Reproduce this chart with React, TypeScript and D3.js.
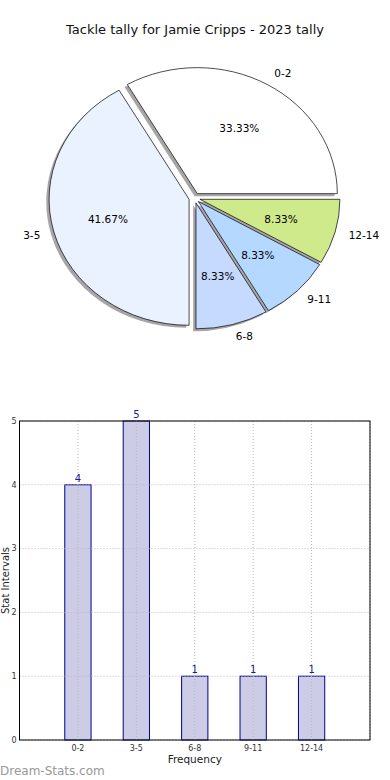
import React from "react";
import * as d3 from "d3";

const title = "Tackle tally for Jamie Cripps - 2023 tally";
const categories = ["0-2", "3-5", "6-8", "9-11", "12-14"];
const counts = [4, 5, 1, 1, 1];
const sliceColors = ["#ffffff", "#ebf2ff", "#c6d9ff", "#b4d8ff", "#cfea8b"];
const yTicks = [0, 1, 2, 3, 4, 5];

const W = 390, H = 780;
const font = "'DejaVu Sans', sans-serif";

// pie geometry (matplotlib style, not equal aspect -> ellipse)
const cx = 194.5, cy = 198, rx = 140, ry = 126;
const explode = 0.04;

const Pie = () => {
  const pie = d3.pie<number>().sort(null).startAngle(Math.PI / 2).endAngle(Math.PI / 2 - 2 * Math.PI);
  const arcs = pie(counts);
  const arc = d3.arc<d3.PieArcDatum<number>>().innerRadius(0).outerRadius(1);
  const total = d3.sum(counts);

  const info = arcs.map((a, i) => {
    const mid = Math.PI / 2 - (a.startAngle + a.endAngle) / 2; // math angle, ccw from east
    const ox = cx + explode * rx * Math.cos(mid);
    const oy = cy - explode * ry * Math.sin(mid);
    return { a, i, mid, ox, oy };
  });

  return (
    <g>
      {info.map(({ a, i, ox, oy }) => (
        <path key={"s" + i} d={arc(a) || ""}
          transform={`translate(${ox - 2.8},${oy + 2.5}) scale(${rx},${ry})`}
          fill="#4d4d4d" fillOpacity={0.5} stroke="none" />
      ))}
      {info.map(({ a, i, ox, oy }) => (
        <path key={"w" + i} d={arc(a) || ""}
          transform={`translate(${ox},${oy}) scale(${rx},${ry})`}
          fill={sliceColors[i]} stroke="#000" strokeWidth={0.7}
          vectorEffect="non-scaling-stroke" strokeLinejoin="miter" />
      ))}
      {info.map(({ i, mid, ox, oy }) => {
        const lx = ox + 1.1 * rx * Math.cos(mid);
        const ly = oy - 1.1 * ry * Math.sin(mid);
        const px = ox + 0.6 * rx * Math.cos(mid);
        const py = oy - 0.6 * ry * Math.sin(mid);
        return (
          <g key={"t" + i} fontFamily={font} fontSize={10.5} fill="#000">
            <text x={lx} y={ly} dy="0.35em" textAnchor={Math.cos(mid) > 0 ? "start" : "end"}>
              {categories[i]}
            </text>
            <text x={px} y={py} dy="0.35em" textAnchor="middle">
              {((counts[i] / total) * 100).toFixed(2) + "%"}
            </text>
          </g>
        );
      })}
    </g>
  );
};

// bar chart
const bLeft = 19.5, bRight = 370, bTop = 421, bBottom = 740;

const Bars = () => {
  const x = d3.scaleLinear().domain([-1, 5]).range([bLeft, bRight]);
  const y = d3.scaleLinear().domain([0, 5]).range([bBottom, bTop]);
  const bw = x(0.45) - x(0);
  const gridX = d3.range(categories.length + 1);
  return (
    <g fontFamily={font}>
      {counts.map((v, i) => (
        <rect key={"b" + i} x={x(i) - bw / 2} y={y(v)} width={bw} height={y(0) - y(v)}
          fill="#ccccE6" stroke="#00008b" strokeWidth={1} />
      ))}
      {yTicks.map(t => (
        <line key={"gy" + t} x1={bLeft} x2={bRight} y1={y(t)} y2={y(t)}
          stroke="#b8b8b8" strokeWidth={1} strokeDasharray="1,2" />
      ))}
      {gridX.map(t => (
        <line key={"gx" + t} x1={x(t)} x2={x(t)} y1={bTop} y2={bBottom}
          stroke="#b8b8b8" strokeWidth={1} strokeDasharray="1,2" />
      ))}
      <rect x={bLeft} y={bTop} width={bRight - bLeft} height={bBottom - bTop}
        fill="none" stroke="#000" strokeWidth={1} />
      {counts.map((v, i) => (
        <text key={"v" + i} x={x(i)} y={y(v) - 3} textAnchor="middle" fontSize={10} fill="#1a1a9a">
          {v}
        </text>
      ))}
      {yTicks.map(t => (
        <text key={"ty" + t} x={bLeft - 3} y={y(t)} dy="0.35em" textAnchor="end" fontSize={8} fill="#333">
          {t}
        </text>
      ))}
      {categories.map((c, i) => (
        <text key={"tx" + i} x={x(i)} y={751} textAnchor="middle" fontSize={8} fill="#333">
          {c}
        </text>
      ))}
      <text x={(bLeft + bRight) / 2} y={763} textAnchor="middle" fontSize={10.5} fill="#222">
        Frequency
      </text>
      <text transform={`translate(9,${(bTop + bBottom) / 2}) rotate(-90)`} textAnchor="middle"
        fontSize={10} fill="#222">
        Stat Intervals
      </text>
    </g>
  );
};

const App = () => (
  <svg width={W} height={H} style={{ position: "absolute", left: 0, top: 0, background: "#fff" }}>
    <rect width={W} height={H} fill="#fff" />
    <text x={W / 2} y={34} textAnchor="middle" fontFamily={font} fontSize={13} fill="#111">
      {title}
    </text>
    <Pie />
    <Bars />
    <text x={0} y={775} fontFamily={font} fontSize={12} fill="#999">Dream-Stats.com</text>
  </svg>
);

export default App;
